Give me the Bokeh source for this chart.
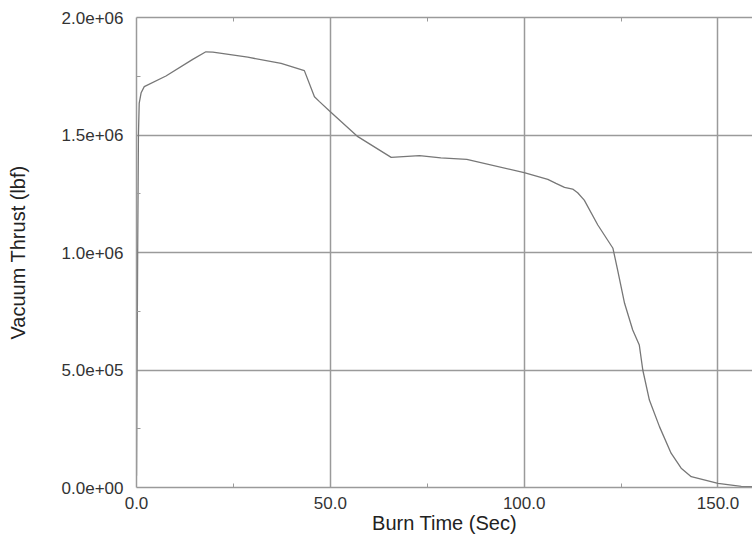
from bokeh.plotting import figure
from bokeh.models import LinearAxis, FixedTicker, Range1d, Grid
from bokeh.embed import file_html
from bokeh.resources import INLINE

burn_time = [0.0, 0.3, 0.5, 0.7, 1.2, 2.0, 7.6, 14.5, 17.9, 19.7, 28.7, 37.3, 43.3,
             45.9, 47.2, 50.0, 57.1, 65.7, 73.0, 78.5, 85.2, 100.0, 106.1, 108.2,
             110.4, 112.5, 113.8, 115.5, 119.0, 122.9, 124.1, 125.9, 128.0, 129.7,
             130.6, 132.3, 134.9, 137.9, 140.5, 143.1, 150.0, 156.0, 159.0]
thrust = [0.05e6, 1.00e6, 1.50e6, 1.636e6, 1.68e6, 1.706e6, 1.751e6, 1.822e6, 1.854e6,
          1.853e6, 1.831e6, 1.805e6, 1.774e6, 1.663e6, 1.642e6, 1.599e6, 1.493e6,
          1.405e6, 1.412e6, 1.403e6, 1.396e6, 1.340e6, 1.311e6, 1.294e6, 1.277e6,
          1.270e6, 1.254e6, 1.223e6, 1.117e6, 1.018e6, 0.926e6, 0.784e6, 0.670e6,
          0.606e6, 0.500e6, 0.372e6, 0.259e6, 0.146e6, 0.082e6, 0.046e6, 0.018e6,
          0.005e6, 0.003e6]

x_ticks = [0, 50, 100, 150]
x_minor = [25, 75, 125]
x_tick_labels = ["0.0", "50.0", "100.0", "150.0"]
y_ticks = [0, 0.5e6, 1.0e6, 1.5e6, 2.0e6]
y_minor = [0.25e6, 0.75e6, 1.25e6, 1.75e6]
y_tick_labels = ["0.0e+00", "5.0e+05", "1.0e+06", "1.5e+06", "2.0e+06"]

FONT = "Liberation Sans"
AX = "#9a9a9a"

p = figure(width=752, height=537, output_backend="svg", toolbar_location=None,
           x_range=Range1d(0, 158.9), y_range=Range1d(0, 2.0e6),
           x_axis_type=None, y_axis_type=None,
           min_border_left=136, min_border_right=0, min_border_top=17,
           min_border_bottom=50)
p.outline_line_color = None
p.background_fill_color = "white"
p.border_fill_color = "white"

xax = LinearAxis(ticker=FixedTicker(ticks=x_ticks, minor_ticks=x_minor))
xax.major_label_overrides = {t: l for t, l in zip(x_ticks, x_tick_labels)}
yax = LinearAxis(ticker=FixedTicker(ticks=y_ticks, minor_ticks=y_minor))
yax.major_label_overrides = {t: l for t, l in zip(y_ticks, y_tick_labels)}
tax = LinearAxis(ticker=FixedTicker(ticks=[], minor_ticks=x_minor))

for ax in (xax, yax, tax):
    ax.axis_line_color = AX
    ax.axis_line_width = 1.5
    ax.major_tick_in = 0
    ax.major_tick_out = 0
    ax.minor_tick_in = 4
    ax.minor_tick_out = 0
    ax.minor_tick_line_color = AX
    ax.major_label_text_font = FONT
    ax.major_label_text_font_size = "17px"
    ax.major_label_text_color = "#333333"
    ax.axis_label_text_font = FONT
    ax.axis_label_text_font_style = "normal"
    ax.axis_label_text_font_size = "20px"
    ax.axis_label_text_color = "#222222"

tax.major_label_text_font_size = "0px"
tax.major_label_standoff = 0
xax.major_label_standoff = 9
yax.major_label_standoff = 13
xax.axis_label = "Burn Time (Sec)"
xax.axis_label_standoff = 0
yax.axis_label = "Vacuum Thrust (lbf)"
yax.axis_label_standoff = 30

p.add_layout(xax, "below")
p.add_layout(yax, "left")
p.add_layout(tax, "above")

xgrid = Grid(dimension=0, ticker=FixedTicker(ticks=x_ticks))
ygrid = Grid(dimension=1, ticker=FixedTicker(ticks=y_ticks))
for g in (xgrid, ygrid):
    g.grid_line_color = AX
    g.grid_line_width = 1.5
    p.add_layout(g)

p.line(burn_time, thrust, line_color="#777777", line_width=1.3)

open("out.html", "w").write(file_html(p, INLINE))
